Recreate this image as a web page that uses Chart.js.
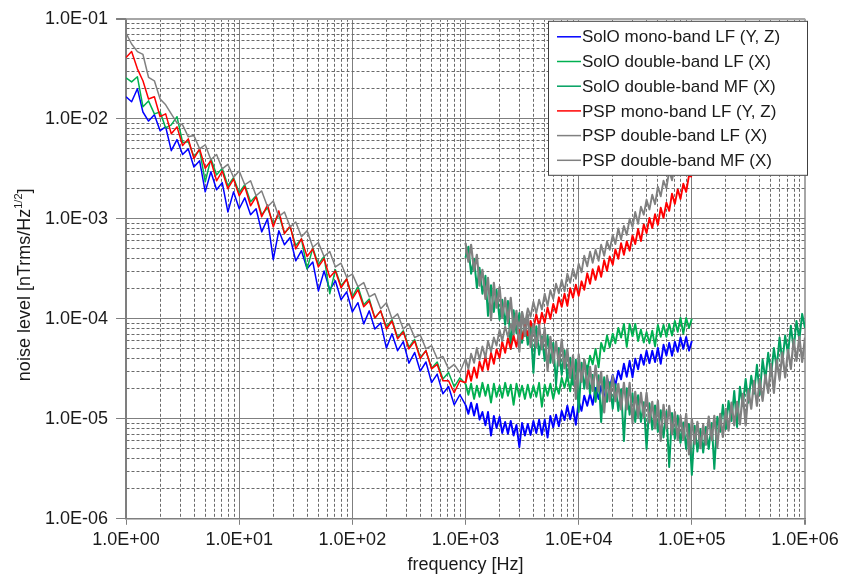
<!DOCTYPE html>
<html>
<head>
<meta charset="utf-8">
<title>Noise level</title>
<script src="https://cdn.jsdelivr.net/npm/chart.js@4.4.1/dist/chart.umd.min.js"></script>
<style>
  html, body { margin: 0; padding: 0; background: #fff; }
  canvas { display: block; }
</style>
</head>
<body>
<canvas id="noiseChart" width="846" height="577"></canvas>
<script>
// frequency grids [Hz]: 1/20 decade below 1 kHz, 1/40 decade above
const freqLow = [
  1, 1.12, 1.26, 1.41, 1.58, 1.78, 2, 2.24, 2.51, 2.82, 3.16, 3.55, 3.98, 4.47, 5.01, 5.62, 6.31, 7.08, 7.94, 8.91,
  10, 11.2, 12.6, 14.1, 15.8, 17.8, 20, 22.4, 25.1, 28.2, 31.6, 35.5, 39.8, 44.7, 50.1, 56.2, 63.1, 70.8, 79.4, 89.1,
  100, 112, 126, 141, 158, 178, 200, 224, 251, 282, 316, 355, 398, 447, 501, 562, 631, 708, 794, 891
];
const freqHigh = [
  1000, 1060, 1120, 1190, 1260, 1330, 1410, 1500, 1580, 1680, 1780, 1880, 2000, 2110, 2240, 2370, 2510, 2660, 2820, 2990,
  3160, 3350, 3550, 3760, 3980, 4220, 4470, 4730, 5010, 5310, 5620, 5960, 6310, 6680, 7080, 7500, 7940, 8410, 8910, 9440,
  10000, 10600, 11200, 11900, 12600, 13300, 14100, 15000, 15800, 16800, 17800, 18800, 20000, 21100, 22400, 23700, 25100, 26600, 28200, 29900,
  31600, 33500, 35500, 37600, 39800, 42200, 44700, 47300, 50100, 53100, 56200, 59600, 63100, 66800, 70800, 75000, 79400, 84100, 89100, 94400,
  100000, 106000, 112000, 119000, 126000, 133000, 141000, 150000, 158000, 168000, 178000, 188000, 200000, 211000, 224000, 237000, 251000, 266000, 282000, 299000,
  316000, 335000, 355000, 376000, 398000, 422000, 447000, 473000, 501000, 531000, 562000, 596000, 631000, 668000, 708000, 750000, 794000, 841000, 891000, 944000,
  1000000
];

// noise level [nTrms/Hz^1/2]
// SolO mono-band LF (Y, Z)
const soloMonoLow = [
  1.66e-2, 1.48e-2, 2.0e-2, 1.17e-2, 9.5e-3, 1.1e-2, 7.6e-3, 8.3e-3, 4.8e-3, 6.2e-3,
  4.4e-3, 5.0e-3, 3.3e-3, 3.8e-3, 1.86e-3, 2.95e-3, 1.95e-3, 2.3e-3, 1.17e-3, 1.86e-3,
  1.26e-3, 1.62e-3, 1.1e-3, 1.26e-3, 7.4e-4, 1.0e-3, 3.9e-4, 7.6e-4, 5.5e-4, 6.5e-4,
  3.8e-4, 4.8e-4, 3.16e-4, 3.7e-4, 1.9e-4, 3.0e-4, 1.95e-4, 2.4e-4, 1.55e-4, 1.86e-4,
  1.17e-4, 1.45e-4, 8.9e-5, 1.2e-4, 7.9e-5, 9.1e-5, 5.1e-5, 7.1e-5, 4.8e-5, 5.9e-5,
  3.6e-5, 4.6e-5, 3.0e-5, 3.7e-5, 2.3e-5, 2.8e-5, 1.78e-5, 2.1e-5, 1.38e-5, 1.74e-5
];
const soloMonoHigh = [
  1.38e-5, 1.12e-5, 1.45e-5, 1.08e-5, 1.41e-5, 9.8e-6, 1.17e-5, 8.6e-6, 1.17e-5, 6.8e-6,
  1.07e-5, 8.1e-6, 1.05e-5, 7.2e-6, 9.3e-6, 7.1e-6, 9.5e-6, 6.8e-6, 8.7e-6, 5.2e-6,
  9.1e-6, 6.8e-6, 8.9e-6, 6.9e-6, 9.5e-6, 7.2e-6, 9.8e-6, 6.9e-6, 9.8e-6, 6.5e-6,
  1.07e-5, 8.2e-6, 1.1e-5, 8.4e-6, 1.2e-5, 9.7e-6, 1.35e-5, 9.9e-6, 1.32e-5, 8.7e-6,
  1.51e-5, 1.2e-5, 1.7e-5, 1.35e-5, 1.78e-5, 1.38e-5, 2.04e-5, 1.58e-5, 2.14e-5, 1.5e-5,
  2.57e-5, 2.02e-5, 2.75e-5, 2.16e-5, 3.02e-5, 2.48e-5, 3.55e-5, 2.63e-5, 3.8e-5, 2.6e-5,
  3.98e-5, 3.13e-5, 4.37e-5, 3.47e-5, 4.8e-5, 3.6e-5, 4.8e-5, 3.7e-5, 5.1e-5, 3.55e-5,
  5.5e-5, 4.3e-5, 5.75e-5, 4.27e-5, 5.9e-5, 4.68e-5, 6.5e-5, 5.0e-5, 6.6e-5, 4.8e-5,
  6.0e-5
];
// SolO double-band LF (X)
const soloDoubleLow = [
  2.57e-2, 2.34e-2, 2.63e-2, 1.32e-2, 1.51e-2, 1.12e-2, 1.17e-2, 8.1e-3, 8.7e-3, 1.05e-2,
  5.8e-3, 5.9e-3, 4.2e-3, 4.9e-3, 2.34e-3, 4.0e-3, 2.75e-3, 3.2e-3, 2.14e-3, 2.57e-3,
  1.82e-3, 2.19e-3, 1.48e-3, 1.7e-3, 1.1e-3, 1.29e-3, 8.9e-4, 1.1e-3, 7.2e-4, 8.3e-4,
  5.4e-4, 6.3e-4, 3.16e-4, 5.1e-4, 3.5e-4, 4.2e-4, 1.78e-4, 3.1e-4, 2.14e-4, 2.5e-4,
  1.66e-4, 2.1e-4, 1.38e-4, 1.58e-4, 1.02e-4, 1.2e-4, 8.3e-5, 9.8e-5, 6.5e-5, 7.6e-5,
  5.2e-5, 6.2e-5, 4.1e-5, 4.8e-5, 3.2e-5, 3.7e-5, 2.5e-5, 2.9e-5, 2.09e-5, 2.57e-5
];
const soloDoubleHigh = [
  2.24e-5, 1.74e-5, 2.24e-5, 1.58e-5, 2.14e-5, 1.66e-5, 2.29e-5, 1.7e-5, 2.19e-5, 1.45e-5,
  2.24e-5, 1.66e-5, 2.14e-5, 1.62e-5, 2.29e-5, 1.7e-5, 2.19e-5, 1.38e-5, 2.24e-5, 1.66e-5,
  2.14e-5, 1.58e-5, 2.19e-5, 1.62e-5, 2.14e-5, 1.66e-5, 2.29e-5, 1.32e-5, 2.19e-5, 1.7e-5,
  2.24e-5, 1.58e-5, 2.14e-5, 1.78e-5, 2.57e-5, 2.04e-5, 2.75e-5, 1.88e-5, 3.24e-5, 2.48e-5,
  3.39e-5, 2.72e-5, 3.9e-5, 2.99e-5, 4.27e-5, 3.5e-5, 5.0e-5, 3.27e-5, 5.75e-5, 4.73e-5,
  6.8e-5, 5.2e-5, 7.1e-5, 5.7e-5, 8.1e-5, 6.5e-5, 8.9e-5, 5.25e-5, 8.9e-5, 6.7e-5,
  8.9e-5, 6.0e-5, 7.8e-5, 5.8e-5, 7.4e-5, 5.7e-5, 7.6e-5, 5.3e-5, 8.7e-5, 6.6e-5,
  8.7e-5, 6.6e-5, 8.9e-5, 6.8e-5, 9.5e-5, 7.4e-5, 1.02e-4, 7.1e-5, 1.02e-4, 8.1e-5,
  1.0e-4
];
// SolO double-band MF (X)
const soloDoubleMF = [
  4.07e-4, 5.25e-4, 2.82e-4, 3.98e-4, 2.04e-4, 3.24e-4, 1.78e-4, 2.69e-4, 1.07e-4, 2.16e-4,
  1.17e-4, 1.95e-4, 9.8e-5, 1.55e-4, 8.7e-5, 1.51e-4, 5.0e-5, 1.22e-4, 7.2e-5, 1.14e-4,
  5.75e-5, 9.9e-5, 5.5e-5, 8.5e-5, 2.88e-5, 8.4e-5, 4.37e-5, 6.7e-5, 3.8e-5, 6.8e-5,
  3.63e-5, 5.75e-5, 2.19e-5, 5.1e-5, 2.75e-5, 4.84e-5, 2.57e-5, 4.07e-5, 2.19e-5, 3.9e-5,
  1.17e-5, 3.63e-5, 2.0e-5, 3.4e-5, 1.78e-5, 2.75e-5, 1.48e-5, 2.72e-5, 9.3e-6, 2.6e-5,
  1.48e-5, 2.32e-5, 1.26e-5, 2.21e-5, 1.2e-5, 1.97e-5, 6.0e-6, 2.02e-5, 1.1e-5, 1.8e-5,
  9.3e-6, 1.72e-5, 9.3e-6, 1.46e-5, 5.0e-6, 1.43e-5, 7.8e-6, 1.36e-5, 7.4e-6, 1.22e-5,
  6.5e-6, 1.19e-5, 3.3e-6, 1.14e-5, 6.3e-6, 1.08e-5, 5.75e-6, 9.2e-6, 5.0e-6, 8.8e-6,
  2.75e-6, 8.5e-6, 4.7e-6, 7.9e-6, 4.6e-6, 8.3e-6, 5.0e-6, 9.1e-6, 3.16e-6, 1.05e-5,
  7.4e-6, 1.38e-5, 7.9e-6, 1.51e-5, 9.5e-6, 1.9e-5, 8.3e-6, 2.09e-5, 1.35e-5, 2.5e-5,
  1.45e-5, 2.69e-5, 1.78e-5, 3.47e-5, 1.74e-5, 3.9e-5, 2.5e-5, 4.57e-5, 2.69e-5, 5.1e-5,
  3.24e-5, 6.5e-5, 3.7e-5, 6.8e-5, 4.47e-5, 8.5e-5, 5.0e-5, 9.5e-5, 6.2e-5, 1.12e-4,
  8.1e-5
];
// PSP mono-band LF (Y, Z)
const pspMonoLow = [
  4.1e-2, 4.7e-2, 3.16e-2, 2.4e-2, 1.58e-2, 1.66e-2, 1.05e-2, 1.12e-2, 7.1e-3, 8.3e-3,
  5.4e-3, 6.3e-3, 4.0e-3, 5.0e-3, 3.2e-3, 3.8e-3, 2.4e-3, 3.0e-3, 2.0e-3, 2.5e-3,
  1.7e-3, 2.1e-3, 1.35e-3, 1.66e-3, 1.05e-3, 1.38e-3, 8.3e-4, 1.2e-3, 7.1e-4, 8.5e-4,
  5.0e-4, 6.3e-4, 4.2e-4, 5.0e-4, 3.3e-4, 4.0e-4, 2.6e-4, 3.0e-4, 2.04e-4, 2.5e-4,
  1.58e-4, 1.95e-4, 1.32e-4, 1.51e-4, 1.02e-4, 1.2e-4, 7.9e-5, 9.5e-5, 6.3e-5, 7.4e-5,
  5.0e-5, 6.0e-5, 4.0e-5, 4.8e-5, 3.16e-5, 3.5e-5, 2.4e-5, 2.4e-5, 1.82e-5, 2.4e-5
];
const pspMonoHigh = [
  2.29e-5, 3.09e-5, 2.4e-5, 3.27e-5, 2.57e-5, 3.72e-5, 3.02e-5, 4.2e-5, 3.09e-5, 4.57e-5,
  3.55e-5, 4.95e-5, 4.07e-5, 5.9e-5, 4.57e-5, 6.4e-5, 5.0e-5, 6.8e-5, 5.25e-5, 7.7e-5,
  6.3e-5, 8.8e-5, 6.8e-5, 9.5e-5, 7.8e-5, 1.11e-4, 8.5e-5, 1.15e-4, 9.1e-5, 1.3e-4,
  1.0e-4, 1.41e-4, 1.15e-4, 1.64e-4, 1.32e-4, 1.78e-4, 1.35e-4, 2.02e-4, 1.62e-4, 2.19e-4,
  1.7e-4, 2.37e-4, 1.95e-4, 2.85e-4, 2.24e-4, 3.13e-4, 2.45e-4, 3.35e-4, 2.63e-4, 3.85e-4,
  3.02e-4, 4.2e-4, 3.47e-4, 4.95e-4, 3.98e-4, 5.7e-4, 4.37e-4, 5.95e-4, 4.8e-4, 6.8e-4,
  5.6e-4, 7.9e-4, 6.0e-4, 8.8e-4, 7.2e-4, 1.02e-3, 8.1e-4, 1.11e-3, 8.7e-4, 1.29e-3,
  1.02e-3, 1.45e-3, 1.2e-3, 1.78e-3, 1.41e-3, 1.97e-3, 1.58e-3, 2.24e-3, 1.86e-3, 2.72e-3,
  2.63e-3
];
// PSP double-band LF (X)
const pspDoubleLow = [
  7.2e-2, 5.6e-2, 4.7e-2, 4.4e-2, 2.6e-2, 2.4e-2, 1.58e-2, 1.38e-2, 1.12e-2, 9.1e-3,
  8.7e-3, 6.6e-3, 6.8e-3, 5.0e-3, 5.5e-3, 3.9e-3, 4.4e-3, 3.16e-3, 3.5e-3, 2.6e-3,
  3.0e-3, 2.19e-3, 2.4e-3, 1.7e-3, 1.9e-3, 1.32e-3, 1.51e-3, 1.05e-3, 1.17e-3, 8.3e-4,
  9.3e-4, 6.6e-4, 7.6e-4, 5.2e-4, 5.8e-4, 4.2e-4, 4.7e-4, 3.3e-4, 3.6e-4, 2.6e-4,
  2.8e-4, 2.1e-4, 2.3e-4, 1.66e-4, 1.78e-4, 1.26e-4, 1.45e-4, 1.0e-4, 1.12e-4, 7.9e-5,
  8.9e-5, 6.5e-5, 6.9e-5, 5.0e-5, 5.4e-5, 4.0e-5, 4.2e-5, 3.16e-5, 3.5e-5, 2.9e-5
];
const pspDoubleHigh = [
  3.98e-5, 3.16e-5, 4.47e-5, 3.63e-5, 5.1e-5, 3.9e-5, 5.3e-5, 4.07e-5, 6.0e-5, 4.68e-5,
  6.5e-5, 5.4e-5, 7.8e-5, 6.0e-5, 8.4e-5, 6.6e-5, 8.9e-5, 7.0e-5, 1.02e-4, 8.4e-5,
  1.17e-4, 8.9e-5, 1.27e-4, 1.05e-4, 1.48e-4, 1.14e-4, 1.55e-4, 1.24e-4, 1.78e-4, 1.35e-4,
  1.93e-4, 1.58e-4, 2.24e-4, 1.8e-4, 2.45e-4, 1.88e-4, 2.82e-4, 2.29e-4, 3.16e-4, 2.51e-4,
  3.55e-4, 2.92e-4, 4.27e-4, 3.35e-4, 4.68e-4, 3.63e-4, 4.9e-4, 3.8e-4, 5.5e-4, 4.27e-4,
  5.95e-4, 4.9e-4, 6.9e-4, 5.6e-4, 8.0e-4, 6.2e-4, 8.5e-4, 6.9e-4, 1.0e-3, 8.3e-4,
  1.17e-3, 8.9e-4, 1.32e-3, 1.1e-3, 1.55e-3, 1.24e-3, 1.74e-3, 1.4e-3, 2.09e-3, 1.68e-3,
  2.4e-3, 2.02e-3, 3.02e-3, 2.43e-3, 3.39e-3, 2.72e-3, 3.9e-3, 3.27e-3, 4.8e-3, 3.94e-3,
  4.8e-3
];
// PSP double-band MF (X)
const pspDoubleMF = [
  5.75e-4, 3.72e-4, 5.5e-4, 3.02e-4, 4.37e-4, 2.14e-4, 3.09e-4, 1.58e-4, 2.57e-4, 9.7e-5,
  2.29e-4, 1.29e-4, 2.09e-4, 1.02e-4, 1.62e-4, 9.3e-5, 1.62e-4, 7.7e-5, 1.2e-4, 4.7e-5,
  1.17e-4, 6.7e-5, 1.1e-4, 5.2e-5, 8.9e-5, 5.2e-5, 8.7e-5, 4.95e-5, 8.1e-5, 3.05e-5,
  6.6e-5, 3.6e-5, 5.9e-5, 3.4e-5, 6.2e-5, 3.2e-5, 5.0e-5, 2.57e-5, 4.3e-5, 1.58e-5,
  4.4e-5, 2.34e-5, 3.9e-5, 2.0e-5, 3.3e-5, 1.9e-5, 3.4e-5, 1.88e-5, 2.95e-5, 1.16e-5,
  2.7e-5, 1.5e-5, 2.7e-5, 1.5e-5, 2.24e-5, 1.24e-5, 2.29e-5, 1.24e-5, 2.29e-5, 9.2e-6,
  1.86e-5, 1.04e-5, 1.82e-5, 1.04e-5, 1.82e-5, 9.2e-6, 1.48e-5, 8.0e-6, 1.51e-5, 6.0e-6,
  1.38e-5, 8.0e-6, 1.35e-5, 7.0e-6, 1.17e-5, 6.2e-6, 1.07e-5, 6.2e-6, 1.12e-5, 4.4e-6,
  1.0e-5, 5.6e-6, 9.3e-6, 5.1e-6, 8.7e-6, 5.5e-6, 1.05e-5, 6.1e-6, 1.07e-5, 5.2e-6,
  1.12e-5, 6.6e-6, 1.26e-5, 7.6e-6, 1.45e-5, 8.6e-6, 1.48e-5, 8.8e-6, 1.78e-5, 8.6e-6,
  1.95e-5, 1.26e-5, 2.4e-5, 1.35e-5, 2.5e-5, 1.51e-5, 2.75e-5, 1.82e-5, 3.55e-5, 1.82e-5,
  3.9e-5, 2.45e-5, 4.6e-5, 2.6e-5, 4.9e-5, 3.16e-5, 6.2e-5, 3.8e-5, 6.6e-5, 3.7e-5,
  6.5e-5
];

const seriesNames = [
  'SolO mono-band LF (Y, Z)',
  'SolO double-band LF (X)',
  'SolO double-band MF (X)',
  'PSP mono-band LF (Y, Z)',
  'PSP double-band LF (X)',
  'PSP double-band MF (X)'
];
const seriesColors = ['#0000ff', '#00b050', '#00a060', '#ff0000', '#808080', '#808080'];

const FONT = '"Liberation Sans", Arial, Helvetica, sans-serif';
Chart.defaults.font.family = FONT;
Chart.defaults.color = '#1a1a1a';

function toPoints(freq, vals) {
  return vals.map((v, i) => ({ x: freq[i], y: v }));
}
function lfPoints(low, high) {
  return toPoints(freqLow, low).concat(toPoints(freqHigh, high));
}

function mantissa(v) {
  return v / Math.pow(10, Math.floor(Math.log10(v) + 1e-9));
}
function isDecade(v) {
  return Math.abs(mantissa(v) - 1) < 1e-6;
}
function isWholeStep(v) {
  const m = mantissa(v);
  return Math.abs(m - Math.round(m)) < 1e-6;
}
function sciLabel(v) {
  const e = Math.round(Math.log10(v));
  return '1.0E' + (e < 0 ? '-' : '+') + String(Math.abs(e)).padStart(2, '0');
}

function gridColor(ctx) {
  if (!ctx.tick) return '#808080';
  const v = ctx.tick.value;
  if (!isWholeStep(v)) return 'rgba(0,0,0,0)';
  if (ctx.index === ctx.scale.ticks.length - 1) return '#a6a6a6';
  return isDecade(v) ? '#7f7f7f' : '#6a6a6a';
}
function gridWidth(ctx) {
  if (ctx.tick && ctx.index === ctx.scale.ticks.length - 1) return 2;
  return 1;
}
function gridDash(ctx) {
  if (!ctx.tick) return [];
  return isDecade(ctx.tick.value) ? [] : [3, 2];
}
function tickColor(ctx) {
  if (!ctx.tick) return '#7f7f7f';
  return isDecade(ctx.tick.value) ? '#7f7f7f' : 'rgba(0,0,0,0)';
}
function tickLabel(value) {
  return isDecade(value) ? sciLabel(value) : '';
}
// the noisy spectra above 1 kHz look like thick bands
function bandWidth(wide) {
  return ctx => (ctx.p0.parsed.x >= 1000 ? wide : 1.5);
}

const datasets = [
  { data: lfPoints(soloMonoLow, soloMonoHigh), wide: 1.9 },
  { data: lfPoints(soloDoubleLow, soloDoubleHigh), wide: 1.9 },
  { data: toPoints(freqHigh, soloDoubleMF), wide: 2 },
  { data: lfPoints(pspMonoLow, pspMonoHigh), wide: 1.9 },
  { data: lfPoints(pspDoubleLow, pspDoubleHigh), wide: 1.9 },
  { data: toPoints(freqHigh, pspDoubleMF), wide: 2.2 }
].map((ds, i) => ({
  data: ds.data,
  label: seriesNames[i],
  borderColor: seriesColors[i],
  backgroundColor: seriesColors[i],
  borderWidth: 1.5,
  segment: { borderWidth: bandWidth(ds.wide) },
  pointRadius: 0,
  tension: 0,
  fill: false,
  order: seriesNames.length - i
}));

// legend box drawn inside the plot, on top of the curves
const boxLegend = {
  id: 'boxLegend',
  afterDatasetsDraw(chart) {
    const { ctx, chartArea } = chart;
    const left = chartArea.right - 257;
    const top = chartArea.top + 2;
    const width = 260, height = 155;
    ctx.save();
    ctx.fillStyle = '#ffffff';
    ctx.fillRect(left, top, width, height);
    ctx.strokeStyle = '#404040';
    ctx.lineWidth = 1;
    ctx.strokeRect(left + 0.5, top + 0.5, width - 1, height - 1);
    ctx.font = '17px ' + FONT;
    ctx.textBaseline = 'middle';
    ctx.textAlign = 'left';
    chart.data.datasets.forEach((ds, i) => {
      const y = top + 16 + i * 24.7;
      ctx.strokeStyle = ds.borderColor;
      ctx.lineWidth = 1.5;
      ctx.beginPath();
      ctx.moveTo(left + 9, y);
      ctx.lineTo(left + 33, y);
      ctx.stroke();
      ctx.fillStyle = '#1a1a1a';
      ctx.fillText(ds.label, left + 34, y + 1);
    });
    ctx.restore();
  }
};

// y title with superscript 1/2
const yTitle = {
  id: 'yTitle',
  afterDraw(chart) {
    const { ctx, chartArea } = chart;
    const cy = (chartArea.top + chartArea.bottom) / 2 + 16;
    const main = 'noise level [nTrms/Hz';
    ctx.save();
    ctx.translate(25, cy);
    ctx.rotate(-Math.PI / 2);
    ctx.fillStyle = '#1a1a1a';
    ctx.textBaseline = 'middle';
    ctx.textAlign = 'left';
    ctx.font = '18px ' + FONT;
    const w1 = ctx.measureText(main).width;
    const w3 = ctx.measureText(']').width;
    ctx.font = '11px ' + FONT;
    const w2 = ctx.measureText('1/2').width;
    let x = -(w1 + w2 + w3) / 2;
    ctx.font = '18px ' + FONT;
    ctx.fillText(main, x, 0);
    x += w1;
    ctx.font = '11px ' + FONT;
    ctx.fillText('1/2', x, -6);
    x += w2;
    ctx.font = '18px ' + FONT;
    ctx.fillText(']', x, 0);
    ctx.restore();
  }
};

new Chart(document.getElementById('noiseChart').getContext('2d'), {
  type: 'line',
  data: { datasets: datasets },
  plugins: [boxLegend, yTitle],
  options: {
    responsive: false,
    animation: false,
    layout: { padding: { left: 37, right: 41, top: 7, bottom: 0 } },
    plugins: {
      legend: { display: false },
      tooltip: { enabled: false }
    },
    elements: { line: { borderJoinStyle: 'round' } },
    scales: {
      x: {
        type: 'logarithmic',
        min: 1,
        max: 1e6,
        grid: { color: gridColor, lineWidth: gridWidth, tickColor: tickColor, tickLength: 6 },
        border: { color: '#7f7f7f', width: 1.5, dash: gridDash },
        ticks: { callback: tickLabel, autoSkip: false, maxRotation: 0, padding: 4, font: { size: 18 } },
        title: { display: true, text: 'frequency [Hz]', font: { size: 18 }, padding: { top: 0, bottom: 1 } }
      },
      y: {
        type: 'logarithmic',
        min: 1e-6,
        max: 1e-1,
        grid: { color: gridColor, lineWidth: gridWidth, tickColor: tickColor, tickLength: 10 },
        border: { color: '#7f7f7f', width: 1.5, dash: gridDash },
        ticks: { callback: tickLabel, autoSkip: false, padding: 8, font: { size: 18 } }
      }
    }
  }
});
</script>
</body>
</html>
